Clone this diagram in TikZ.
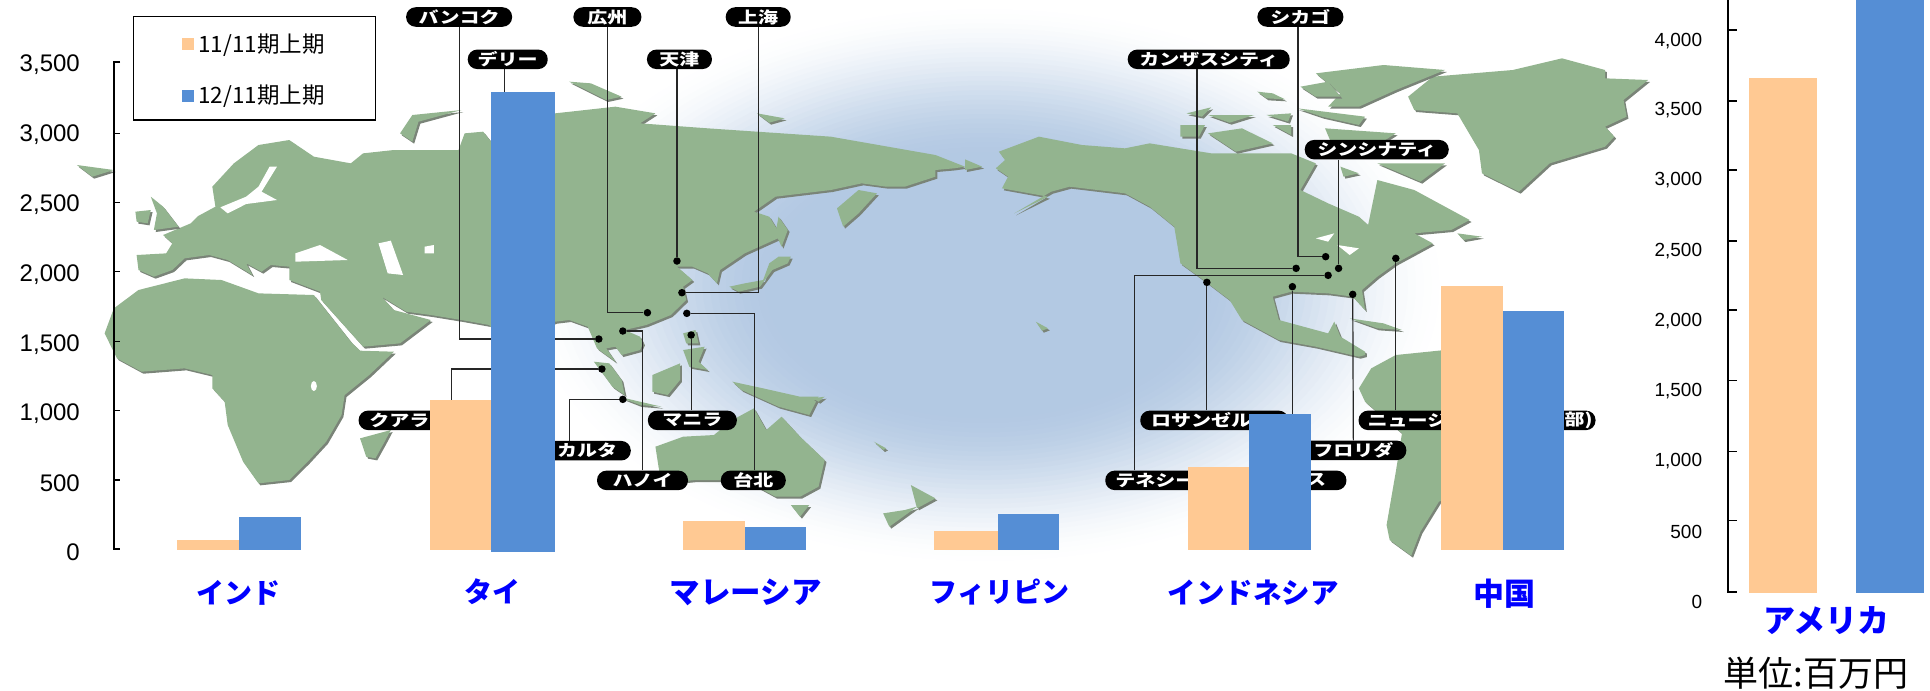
\documentclass[tikz,border=0pt]{standalone}
\usepackage{fontspec}
\setmainfont{Liberation Sans}
\newfontfamily\cjk{Noto Sans CJK JP}
\newfontfamily\cjkb{Noto Sans CJK JP}
\newfontfamily\pillfont[FakeStretch=1.25]{Noto Sans CJK JP}
\definecolor{land}{HTML}{93B48F}
\definecolor{landshade}{HTML}{7A8478}
\definecolor{oc}{HTML}{B3C9E3}
\definecolor{barO}{HTML}{FFC993}
\definecolor{barB}{HTML}{558ED5}
\definecolor{labB}{HTML}{0000FF}
\newcommand{\landpart}[1]{\fill[landshade,shift={(3,6)}] #1; \fill[land] #1;}
\tikzset{
  pill/.style={fill=black,rounded corners=9.5pt,minimum height=19.5pt,inner sep=0pt,text=white,font=\pillfont\bfseries\fontsize{16}{17}\selectfont},
  pilltext/.style={inner sep=0pt,text=white,font=\pillfont\bfseries\fontsize{16}{17}\selectfont},
  leader/.style={draw=black!85,line width=1.2pt},
  citydot/.style={circle,fill=black,minimum size=7.5pt,inner sep=0pt},
  barOrange/.style={fill=barO},
  barBlue/.style={fill=barB},
  axisline/.style={draw=black,line width=1.5pt},
  ticklabL/.style={anchor=east,inner sep=0pt,font=\fontsize{24}{26}\selectfont},
  ticklabR/.style={anchor=east,inner sep=0pt,font=\fontsize{19}{21}\selectfont},
  country/.style={inner sep=0pt,text=labB,font=\cjkb\bfseries\fontsize{28}{30}\selectfont},
  legtext/.style={anchor=west,inner sep=0pt,font=\cjk\fontsize{22.5}{24}\selectfont}
}
\begin{document}
\begin{tikzpicture}[x=0.61538pt,y=-0.33333pt]
\useasboundingbox (0,0) rectangle (3136,2070);
% ocean: concentric ellipses fading to white
\foreach \i in {60,59,...,1}{
  \pgfmathsetmacro{\fr}{\i/60}
  \pgfmathsetmacro{\tt}{max(0,min(1,(\fr-0.45)/0.55))}
  \pgfmathsetmacro{\pc}{100*(1-\tt*\tt*(3-2*\tt))}
  \fill[oc!\pc!white] (1600,855) ellipse [x radius=470*\fr pt,y radius=285*\fr pt];
}
% Eurasia
\landpart{(222,765)--(270,760)--(280,730)--(265,705)--(310,670)--(322,648)--(350,620)--(345,560)--(380,490)--(420,435)--(470,420)--(510,470)--(570,490)--(590,460)--(640,450)--(745,450)--(755,400)--(785,395)--(800,430)--(902,340)--(1000,320)--(1065,340)--(1040,370)--(1150,385)--(1230,395)--(1350,410)--(1520,465)--(1568,500)--(1550,505)--(1520,510)--(1520,530)--(1470,560)--(1440,560)--(1400,550)--(1350,570)--(1260,590)--(1225,635)--(1250,650)--(1270,710)--(1210,760)--(1170,810)--(1165,850)--(1150,820)--(1125,800)--(1100,800)--(1125,840)--(1110,860)--(1115,900)--(1090,945)--(1050,975)--(1015,990)--(1040,1010)--(1045,1030)--(1040,1050)--(1010,1065)--(1000,1040)--(985,1045)--(1000,1085)--(970,1045)--(955,980)--(925,960)--(902,965)--(860,1000)--(830,1060)--(795,975)--(750,960)--(700,945)--(660,935)--(620,890)--(640,930)--(700,960)--(650,1030)--(590,1040)--(522,900)--(520,875)--(470,840)--(470,800)--(440,795)--(425,815)--(400,790)--(410,825)--(370,780)--(340,765)--(300,775)--(280,810)--(250,830)--(225,810)--cycle}
\fill[white] (438,500)--(450,500)--(425,575)--(450,600)--(400,612)--(370,640)--(358,622)--(400,590)--(420,560)--cycle;
\fill[white] (480,760)--(520,735)--(565,780)--(480,785)--cycle;
\fill[white] (615,730)--(635,722)--(655,825)--(630,820)--cycle;
\fill[white] (690,740)--(705,735)--(705,760)--(690,760)--cycle;
% Africa
\landpart{(170,1000)--(185,925)--(225,870)--(300,835)--(360,840)--(420,880)--(510,885)--(570,1025)--(585,1052)--(640,1055)--(600,1125)--(560,1185)--(555,1245)--(530,1325)--(500,1385)--(470,1440)--(420,1450)--(395,1385)--(370,1275)--(365,1205)--(345,1165)--(345,1125)--(300,1105)--(230,1115)--(190,1075)--cycle}
\fill[white] (510,1158) ellipse [x radius=3pt,y radius=5pt];
% islands of the old world
\landpart{(125,495)--(185,510)--(150,530)--cycle}
\landpart{(245,590)--(265,620)--(290,680)--(250,690)--(255,640)--cycle}
\landpart{(220,635)--(245,630)--(240,670)--(222,665)--cycle}
\landpart{(650,400)--(670,345)--(750,330)--(680,365)--(670,425)--cycle}
\landpart{(925,245)--(960,250)--(1010,290)--(985,300)--cycle}
\landpart{(1230,340)--(1275,355)--(1250,368)--cycle}
\landpart{(1265,650)--(1280,690)--(1270,740)--(1260,700)--cycle}
\landpart{(1360,625)--(1395,570)--(1425,580)--(1395,640)--(1370,680)--cycle}
\landpart{(1185,860)--(1210,850)--(1240,840)--(1250,790)--(1265,770)--(1285,770)--(1280,790)--(1255,810)--(1235,860)--(1200,875)--cycle}
\landpart{(965,1085)--(990,1090)--(1010,1140)--(1015,1185)--(995,1160)--cycle}
\landpart{(1005,1190)--(1075,1220)--(1040,1215)--cycle}
\landpart{(1060,1125)--(1105,1090)--(1105,1140)--(1085,1185)--(1060,1175)--cycle}
\landpart{(1110,1050)--(1145,1040)--(1135,1085)--(1150,1110)--(1120,1100)--cycle}
\landpart{(1110,1000)--(1130,990)--(1135,1030)--(1115,1030)--cycle}
\landpart{(1190,1145)--(1240,1165)--(1300,1190)--(1330,1190)--(1315,1245)--(1265,1220)--(1205,1170)--cycle}
\landpart{(1320,1195)--(1340,1190)--(1330,1205)--cycle}
\landpart{(1065,1340)--(1110,1310)--(1160,1305)--(1190,1260)--(1225,1225)--(1245,1290)--(1270,1250)--(1300,1310)--(1340,1380)--(1330,1460)--(1300,1490)--(1260,1490)--(1230,1460)--(1190,1440)--(1130,1440)--(1075,1450)--(1070,1400)--cycle}
\landpart{(1285,1515)--(1315,1515)--(1300,1550)--cycle}
\landpart{(1480,1455)--(1495,1470)--(1520,1495)--(1490,1525)--cycle}
\landpart{(1470,1530)--(1490,1520)--(1445,1580)--(1435,1540)--cycle}
\landpart{(585,1315)--(635,1290)--(625,1325)--(610,1375)--(595,1370)--cycle}
\landpart{(1420,1325)--(1440,1345)--(1435,1350)--cycle}
% the new world
\begin{scope}[shift={(1568,0)}]
\landpart{(0,478)--(28,500)--(0,510)--cycle}
\landpart{(55,455)--(120,410)--(190,435)--(260,445)--(300,430)--(400,460)--(530,460)--(570,490)--(545,570)--(590,610)--(640,650)--(655,675)--(670,540)--(730,570)--(820,660)--(790,690)--(730,700)--(760,730)--(700,790)--(670,830)--(645,870)--(650,930)--(630,890)--(590,880)--(530,875)--(500,890)--(510,960)--(590,1000)--(600,965)--(610,1010)--(650,1055)--(650,1065)--(640,1070)--(570,1040)--(510,1020)--(450,960)--(430,900)--(380,830)--(350,790)--(340,680)--(300,620)--(260,580)--(170,560)--(140,575)--(80,640)--(135,590)--(60,565)--(70,530)--(50,505)--(65,480)--cycle}
\fill[white] (570,715)--(600,700)--(590,725)--cycle;
\fill[white] (605,735)--(640,745)--(625,765)--cycle;
\landpart{(720,290)--(760,230)--(890,210)--(970,175)--(1040,210)--(1040,235)--(1110,240)--(1070,300)--(1075,350)--(1040,380)--(1055,410)--(1040,440)--(950,490)--(900,575)--(840,520)--(835,450)--(800,340)--(730,330)--cycle}
\landpart{(570,220)--(680,195)--(780,210)--(700,270)--(640,320)--(590,320)--(610,280)--cycle}
\landpart{(545,260)--(590,245)--(610,290)--(570,290)--cycle}
\landpart{(475,275)--(500,280)--(520,298)--(490,295)--cycle}
\landpart{(360,340)--(400,322)--(385,350)--cycle}
\landpart{(395,345)--(470,345)--(430,368)--cycle}
\landpart{(490,345)--(530,340)--(525,365)--cycle}
\landpart{(350,375)--(390,375)--(380,410)--(350,410)--cycle}
\landpart{(395,400)--(450,385)--(500,430)--(440,455)--cycle}
\landpart{(500,375)--(530,375)--(530,405)--cycle}
\landpart{(540,325)--(650,350)--(640,375)--(580,350)--cycle}
\landpart{(585,385)--(700,400)--(640,470)--(600,450)--cycle}
\landpart{(670,490)--(780,490)--(740,545)--cycle}
\landpart{(610,500)--(640,520)--(615,530)--cycle}
\landpart{(800,700)--(840,710)--(810,720)--cycle}
\landpart{(625,955)--(680,970)--(710,990)--(670,985)--cycle}
\landpart{(115,965)--(135,985)--(125,992)--cycle}
\begin{scope}[shift={(0,1035)}]
\landpart{(660,70)--(700,30)--(780,15)--(900,100)--(860,400)--(770,470)--(740,560)--(725,632)--(690,585)--(685,540)--(700,380)--(710,265)--(650,170)--(640,130)--cycle}
\end{scope}
\end{scope}
% label pills
\node[pill,minimum width=106pt] (bkk) at (746,51) {バンコク};
\node[pill,minimum width=68pt] (gz) at (987,51) {広州};
\node[pill,minimum width=65pt] (sh) at (1232,51) {上海};
\node[pill,minimum width=80pt] (del) at (825,178) {デリー};
\node[pill,minimum width=65pt] (tj) at (1104,178) {天津};
\node[pill,minimum width=86pt] (chi) at (2113,51) {シカゴ};
\node[pill,minimum width=162pt] (kc) at (1964,178) {カンザスシティ};
\node[pill,minimum width=144pt] (cin) at (2237,449) {シンシナティ};
\node[pill,minimum width=185pt] (kl) at (733,1261) {};
\node[pilltext,anchor=west] (klT) at (600,1261) {クアラ};
\node[pill,minimum width=123pt] (jk) at (925,1352) {};
\node[pilltext,anchor=east] (jkT) at (1003,1352) {カルタ};
\node[pill,minimum width=89pt] (mnl) at (1125,1261) {マニラ};
\node[pill,minimum width=91pt] (han) at (1044,1441) {ハノイ};
\node[pill,minimum width=65pt] (tpe) at (1224,1441) {台北};
\node[pill,minimum width=148pt] (la) at (1973,1261) {};
\node[pilltext,anchor=west] (laT) at (1870,1261) {ロサンゼル};
\node[pill,minimum width=106pt] (ten) at (1882,1441) {};
\node[pilltext,anchor=west] (tenT) at (1812,1441) {テネシー};
\node[pill,minimum width=108pt] (dal) at (2100,1441) {};
\node[pilltext,anchor=east] (dalT) at (2155,1441) {ス};
\node[pill,minimum width=106pt] (fl) at (2199,1351) {フロリダ};
\node[pill,minimum width=237pt] (ny) at (2400,1261) {};
\node[pilltext,anchor=west] (nyT) at (2222,1261) {ニュージ};
\node[pilltext,anchor=east] (nyE) at (2588,1261) {部)};
% city dots
\node[citydot] (dTj) at (1100,783) {};
\node[citydot] (dSh) at (1108,878) {};
\node[citydot] (dGz) at (1052,938) {};
\node[citydot] (dBkk) at (973,1017) {};
\node[citydot] (dKl) at (978,1107) {};
\node[citydot] (dJk) at (1012,1198) {};
\node[citydot] (dHan) at (1012,993) {};
\node[citydot] (dTpe) at (1116,940) {};
\node[citydot] (dMnl) at (1123,1005) {};
\node[citydot] (dChi) at (2154,770) {};
\node[citydot] (dKc) at (2106,805) {};
\node[citydot] (dCin) at (2175,805) {};
\node[citydot] (dTen) at (2158,826) {};
\node[citydot] (dLa) at (1961,847) {};
\node[citydot] (dDal) at (2100,860) {};
\node[citydot] (dFl) at (2198,883) {};
\node[citydot] (dNy) at (2268,775) {};
\coordinate (dDel) at (820,600);
% connectors
\draw[leader] (bkk.south) |- (dBkk);
\draw[leader] (gz.south) |- (dGz);
\draw[leader] (sh.south) |- (dSh);
\draw[leader] ([shift={(-5,0)}]del.south) -- (dDel);
\draw[leader] ([shift={(-4,0)}]tj.south) -- (dTj);
\draw[leader] (kl.north) |- (dKl);
\draw[leader] (jk.north) |- (dJk);
\draw[leader] (han.north) |- (dHan);
\draw[leader] ([shift={(2,0)}]tpe.north) |- (dTpe);
\draw[leader] ([shift={(-2,0)}]mnl.north) -- (dMnl);
\draw[leader] ([shift={(-4,0)}]chi.south) |- (dChi);
\draw[leader] ([shift={(-19,0)}]kc.south) |- (dKc);
\draw[leader] ([shift={(-62,0)}]cin.south) -- (dCin);
\draw[leader] ([shift={(-39,0)}]ten.north) |- (dTen);
\draw[leader] ([shift={(-12,0)}]la.north) -- (dLa);
\draw[leader] (dal.north) -- (dDal);
\draw[leader] (fl.north) -- (dFl);
\draw[leader] ([shift={(-132,0)}]ny.north) -- (dNy);
% bars
\fill[barOrange] (288,1621) rectangle (388,1650);
\fill[barBlue] (388,1552) rectangle (489,1650);
\fill[barOrange] (698,1199) rectangle (798,1650);
\fill[barBlue] (798,276) rectangle (902,1655);
\fill[barOrange] (1110,1563) rectangle (1210,1650);
\fill[barBlue] (1210,1581) rectangle (1310,1650);
\fill[barOrange] (1518,1593) rectangle (1622,1650);
\fill[barBlue] (1622,1542) rectangle (1721,1650);
\fill[barOrange] (1930,1402) rectangle (2030,1650);
\fill[barBlue] (2030,1242) rectangle (2130,1650);
\fill[barOrange] (2342,858) rectangle (2442,1650);
\fill[barBlue] (2442,933) rectangle (2542,1650);
\fill[barOrange] (2842,234) rectangle (2952,1779);
\fill[barBlue] (3016,0) rectangle (3126,1779);
% left axis
\draw[axisline] (195,186) -- (185,186) -- (185,1647) -- (195,1647);
\foreach \ty in {400,608,815,1025,1232,1440} \draw[axisline] (185,\ty) -- (195,\ty);
\node[ticklabL] (l3500) at (130,195) {3,500};
\node[ticklabL] (l3000) at (130,405) {3,000};
\node[ticklabL] (l2500) at (130,615) {2,500};
\node[ticklabL] (l2000) at (130,825) {2,000};
\node[ticklabL] (l1500) at (130,1035) {1,500};
\node[ticklabL] (l1000) at (130,1240) {1,000};
\node[ticklabL] (l500) at (130,1450) {500};
\node[ticklabL] (l0) at (130,1658) {0};
% right axis
\draw[axisline] (2808,0) -- (2808,1776) -- (2822,1776);
\foreach \ty in {90,303,510,723,930,1142,1355,1562} \draw[axisline] (2808,\ty) -- (2822,\ty);
\node[ticklabR] (r4000) at (2766,122) {4,000};
\node[ticklabR] (r3500) at (2766,330) {3,500};
\node[ticklabR] (r3000) at (2766,540) {3,000};
\node[ticklabR] (r2500) at (2766,753) {2,500};
\node[ticklabR] (r2000) at (2766,963) {2,000};
\node[ticklabR] (r1500) at (2766,1173) {1,500};
\node[ticklabR] (r1000) at (2766,1383) {1,000};
\node[ticklabR] (r500) at (2766,1597) {500};
\node[ticklabR] (r0) at (2766,1807) {0};
% legend
\draw[fill=white,draw=black,line width=1.5pt] (217,50) rectangle (610,360);
\fill[barOrange] (296,115) rectangle (316,150);
\fill[barBlue] (296,270) rectangle (316,305);
\node[legtext] (leg1) at (322,135) {11/11期上期};
\node[legtext] (leg2) at (322,290) {12/11期上期};
% country labels
\node[country] (cIn) at (388,1777) {インド};
\node[country] (cTh) at (800,1775) {タイ};
\node[country,font=\cjkb\bfseries\fontsize{30.5}{32}\selectfont] (cMy) at (1212,1777) {マレーシア};
\node[country] (cPh) at (1624,1777) {フィリピン};
\node[country,font=\cjkb\bfseries\fontsize{28.5}{30}\selectfont] (cId) at (2036,1777) {インドネシア};
\node[country,font=\cjkb\bfseries\fontsize{31}{33}\selectfont] (cCn) at (2445,1780) {中国};
\node[country,font=\cjkb\bfseries\fontsize{32}{34}\selectfont] (cUs) at (2968,1863) {アメリカ};
\node[inner sep=0pt,font=\cjk\fontsize{35}{37}\selectfont] (unit) at (2951,2020) {単位:百万円};
\end{tikzpicture}
\end{document}
